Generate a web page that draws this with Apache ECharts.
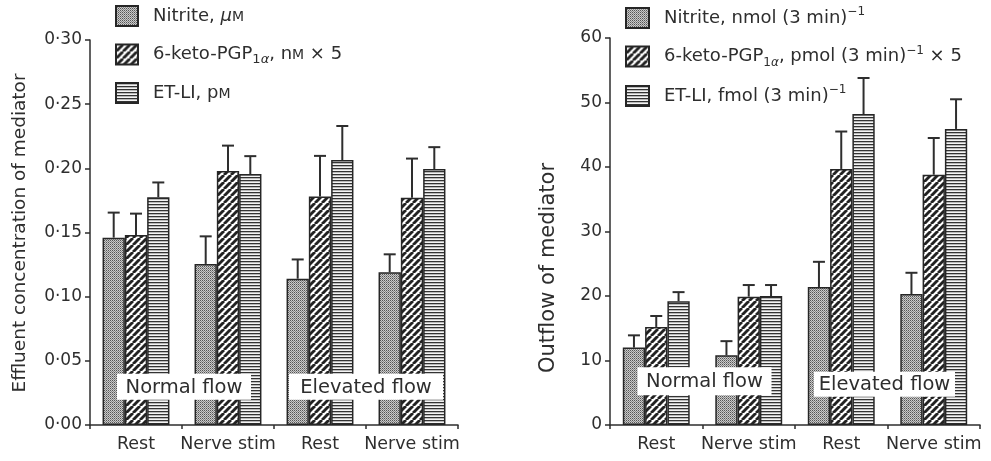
<!DOCTYPE html>
<html><head><meta charset="utf-8">
<script src="https://cdn.jsdelivr.net/npm/echarts/dist/echarts.min.js"></script>
<style>html,body{margin:0;padding:0;background:#fff}#c{width:991px;height:461px}</style>
</head><body><div id="c"></div>
<script>
// ---------- data ----------
const categories = ['Rest', 'Nerve stim', 'Rest', 'Nerve stim'];
const leftNames = ['Nitrite, μM', '6-keto-PGP1α, nM × 5', 'ET-LI, pM'];
const rightNames = ['Nitrite, nmol (3 min)-1', '6-keto-PGP1α, pmol (3 min)-1 × 5', 'ET-LI, fmol (3 min)-1'];

const leftNitrite = [0.146, 0.1255, 0.114, 0.119];
const leftNitriteSem = [0.0195, 0.0215, 0.015, 0.014];
const leftKeto = [0.148, 0.198, 0.178, 0.177];
const leftKetoSem = [0.0167, 0.0197, 0.0317, 0.0306];
const leftET = [0.1775, 0.1955, 0.2065, 0.1995];
const leftETSem = [0.0115, 0.014, 0.0265, 0.017];

const rightNitrite = [12.0, 10.8, 21.4, 20.3];
const rightNitriteSem = [1.9, 2.2, 3.9, 3.3];
const rightKeto = [15.2, 19.9, 39.7, 38.8];
const rightKetoSem = [1.7, 1.8, 5.8, 5.7];
const rightET = [19.2, 20.0, 48.2, 45.9];
const rightETSem = [1.4, 1.7, 5.6, 4.6];

const leftTicks = { min: 0, max: 0.30, interval: 0.05 };
const rightTicks = { min: 0, max: 60, interval: 10 };

const leftTitle = 'Effluent concentration of mediator';
const rightTitle = 'Outflow of mediator';
const flowLabels = ['Normal flow', 'Elevated flow'];

// ---------- styles ----------
const FONT = 'DejaVu Sans';
const INK = '#2e2e2e';
const BAR_W = 22.3;

function makeStipple() {
  const c = document.createElement('canvas'); c.width = 2; c.height = 2;
  const g = c.getContext('2d');
  g.fillStyle = '#cacaca'; g.fillRect(0, 0, 2, 2);
  g.fillStyle = '#555555'; g.fillRect(0, 0, 1, 1);
  g.fillStyle = '#888888'; g.fillRect(1, 1, 1, 1);
  return c;
}
function makeHatch() {
  const s = 7;
  const c = document.createElement('canvas'); c.width = s; c.height = s;
  const g = c.getContext('2d');
  g.fillStyle = '#ffffff'; g.fillRect(0, 0, s, s);
  g.strokeStyle = '#222222'; g.lineWidth = 2.9;
  for (let k = -1; k <= 1; k++) {
    g.beginPath(); g.moveTo(k * s, s); g.lineTo(k * s + s, 0); g.stroke();
  }
  return c;
}
function makeHoriz() {
  const c = document.createElement('canvas'); c.width = 4; c.height = 3;
  const g = c.getContext('2d');
  g.fillStyle = '#f4f4f4'; g.fillRect(0, 0, 4, 3);
  g.fillStyle = '#333333'; g.fillRect(0, 0, 4, 1.3);
  return c;
}
const patterns = [
  { image: makeStipple(), repeat: 'repeat' },
  { image: makeHatch(), repeat: 'repeat' },
  { image: makeHoriz(), repeat: 'repeat' }
];

const leftLegendRich = {};
leftLegendRich[leftNames[0]] = '{g|}{t|Nitrite, }{it|μ}{sc|M}';
leftLegendRich[leftNames[1]] = '{g|}{t|6-keto-PGP}{sm|1}{smi|α}{t|, n}{sc|M}{t| × 5}';
leftLegendRich[leftNames[2]] = '{g|}{t|ET-LI, p}{sc|M}';
const rightLegendRich = {};
rightLegendRich[rightNames[0]] = '{g|}{t|Nitrite, nmol (3 min)}{sup|−1}';
rightLegendRich[rightNames[1]] = '{g|}{t|6-keto-PGP}{sub|1}{subi|α}{t|, pmol (3 min)}{sup|−1}{t| × 5}';
rightLegendRich[rightNames[2]] = '{g|}{t|ET-LI, fmol (3 min)}{sup|−1}';

const richStyles = {
  g: { width: 10 },
  t: { fontSize: 18, lineHeight: 24, fontFamily: FONT, color: INK },
  it: { fontSize: 18, lineHeight: 24, fontFamily: FONT, color: INK, fontStyle: 'italic' },
  sc: { fontSize: 14, lineHeight: 24, fontFamily: FONT, color: INK, verticalAlign: 'bottom', padding: [0, 0, 4, 0] },
  sm: { fontSize: 13, lineHeight: 18, fontFamily: FONT, color: INK, verticalAlign: 'bottom' },
  smi: { fontSize: 13, lineHeight: 18, fontFamily: FONT, color: INK, verticalAlign: 'bottom', fontStyle: 'italic' },
  sup: { fontSize: 12, lineHeight: 14, fontFamily: FONT, color: INK, verticalAlign: 'top' },
  sub: { fontSize: 12, lineHeight: 13, fontFamily: FONT, color: INK, verticalAlign: 'bottom' },
  subi: { fontSize: 12, lineHeight: 13, fontFamily: FONT, color: INK, verticalAlign: 'bottom', fontStyle: 'italic' }
};

function errRender(offsetIdx) {
  return function (params, api) {
    const c = api.value(0), m = api.value(1), u = api.value(2);
    const p0 = api.coord([c, m]);
    const p1 = api.coord([c, u]);
    const x = p0[0] + (offsetIdx - 1) * BAR_W;
    return {
      type: 'group', children: [
        { type: 'line', shape: { x1: x, y1: p0[1], x2: x, y2: p1[1] }, style: { stroke: INK, lineWidth: 2 } },
        { type: 'line', shape: { x1: x - 6, y1: p1[1], x2: x + 6, y2: p1[1] }, style: { stroke: INK, lineWidth: 2 } }
      ]
    };
  };
}

function barSeries(name, values, idx, axisIdx) {
  return {
    type: 'bar', name: name, data: values, xAxisIndex: axisIdx, yAxisIndex: axisIdx,
    barWidth: BAR_W, barGap: '0%',
    itemStyle: { color: patterns[idx], borderColor: '#262626', borderWidth: 1.5 },
    emphasis: { disabled: true }, animation: false, z: 2
  };
}
function errSeries(values, sems, idx, axisIdx) {
  return {
    type: 'custom', xAxisIndex: axisIdx, yAxisIndex: axisIdx,
    data: values.map((v, i) => [i, v, v + sems[i]]),
    encode: { x: 0, y: [1, 2] },
    renderItem: errRender(idx), animation: false, z: 3, silent: true
  };
}

function xAxisCfg(grid) {
  return {
    type: 'category', gridIndex: grid, data: categories,
    axisLine: { lineStyle: { color: INK, width: 1.5 } },
    axisTick: { show: true, length: 4, interval: 0, lineStyle: { color: INK, width: 1.5 } },
    axisLabel: { interval: 0, margin: 10, fontSize: 17.5, fontFamily: FONT, color: INK },
    splitLine: { show: false }
  };
}
function yAxisCfg(grid, ticks, fmt) {
  return {
    type: 'value', gridIndex: grid, min: ticks.min, max: ticks.max, interval: ticks.interval,
    axisLine: { show: true, lineStyle: { color: INK, width: 1.5 } },
    axisTick: { show: true, length: 5, lineStyle: { color: INK, width: 1.5 } },
    axisLabel: { margin: 8, fontSize: 17, fontFamily: FONT, color: INK, formatter: fmt },
    splitLine: { show: false }
  };
}

const option = {
  backgroundColor: '#ffffff',
  animation: false,
  grid: [
    { left: 90, top: 40, width: 368, height: 385 },
    { left: 610, top: 38, width: 370, height: 387 }
  ],
  xAxis: [xAxisCfg(0), xAxisCfg(1)],
  yAxis: [
    yAxisCfg(0, leftTicks, v => v.toFixed(2).replace('.', '·')),
    yAxisCfg(1, rightTicks, v => String(v))
  ],
  legend: [
    {
      data: leftNames, orient: 'vertical', left: 115, top: 5, padding: 0, icon: 'rect',
      itemWidth: 22, itemHeight: 20, itemGap: 15.5, selectedMode: false,
      formatter: n => leftLegendRich[n], textStyle: { rich: richStyles, color: INK }
    },
    {
      data: rightNames, orient: 'vertical', left: 625, top: 6, padding: 0, icon: 'rect',
      itemWidth: 23, itemHeight: 20, itemGap: 15.5, selectedMode: false,
      formatter: n => rightLegendRich[n], textStyle: { rich: richStyles, color: INK }
    }
  ],
  series: [
    barSeries(leftNames[0], leftNitrite, 0, 0),
    barSeries(leftNames[1], leftKeto, 1, 0),
    barSeries(leftNames[2], leftET, 2, 0),
    errSeries(leftNitrite, leftNitriteSem, 0, 0),
    errSeries(leftKeto, leftKetoSem, 1, 0),
    errSeries(leftET, leftETSem, 2, 0),
    barSeries(rightNames[0], rightNitrite, 0, 1),
    barSeries(rightNames[1], rightKeto, 1, 1),
    barSeries(rightNames[2], rightET, 2, 1),
    errSeries(rightNitrite, rightNitriteSem, 0, 1),
    errSeries(rightKeto, rightKetoSem, 1, 1),
    errSeries(rightET, rightETSem, 2, 1)
  ]
};

const chart = echarts.init(document.getElementById('c'), null, { renderer: 'canvas' });
chart.setOption(option);

// annotation boxes placed at category boundaries via the axes
function boundaryPx(axisIdx, a, b, yVal) {
  const pa = chart.convertToPixel({ xAxisIndex: axisIdx, yAxisIndex: axisIdx }, [a, yVal]);
  const pb = chart.convertToPixel({ xAxisIndex: axisIdx, yAxisIndex: axisIdx }, [b, yVal]);
  return [(pa[0] + pb[0]) / 2, pa[1]];
}
const annots = [
  { axis: 0, a: 0, b: 1, y: 0.0298, text: flowLabels[0], w: 134, h: 26, dx: 2 },
  { axis: 0, a: 2, b: 3, y: 0.0298, text: flowLabels[1], w: 154, h: 26, dx: 0 },
  { axis: 1, a: 0, b: 1, y: 6.8, text: flowLabels[0], w: 134, h: 28, dx: 2 },
  { axis: 1, a: 2, b: 3, y: 6.3, text: flowLabels[1], w: 141, h: 25, dx: -3 }
];
const graphics = [];
annots.forEach(an => {
  const p = boundaryPx(an.axis, an.a, an.b, an.y);
  const cx = p[0] + an.dx, cy = p[1];
  graphics.push({
    type: 'rect', z: 100, silent: true,
    shape: { x: cx - an.w / 2, y: cy - an.h / 2, width: an.w, height: an.h },
    style: { fill: '#ffffff' }
  });
  graphics.push({
    type: 'text', z: 101, silent: true, x: cx, y: cy + 1,
    style: { text: an.text, fontSize: 19.5, fontFamily: FONT, fill: INK, align: 'center', verticalAlign: 'middle' }
  });
});
graphics.push({
  type: 'text', silent: true, x: 20, y: 233, rotation: Math.PI / 2,
  style: { text: leftTitle, fontSize: 18.5, fontFamily: FONT, fill: INK, align: 'center', verticalAlign: 'middle' }
});
graphics.push({
  type: 'text', silent: true, x: 549, y: 268, rotation: Math.PI / 2,
  style: { text: rightTitle, fontSize: 21, fontFamily: FONT, fill: INK, align: 'center', verticalAlign: 'middle' }
});
chart.setOption({ graphic: graphics });
</script>
</body></html>
